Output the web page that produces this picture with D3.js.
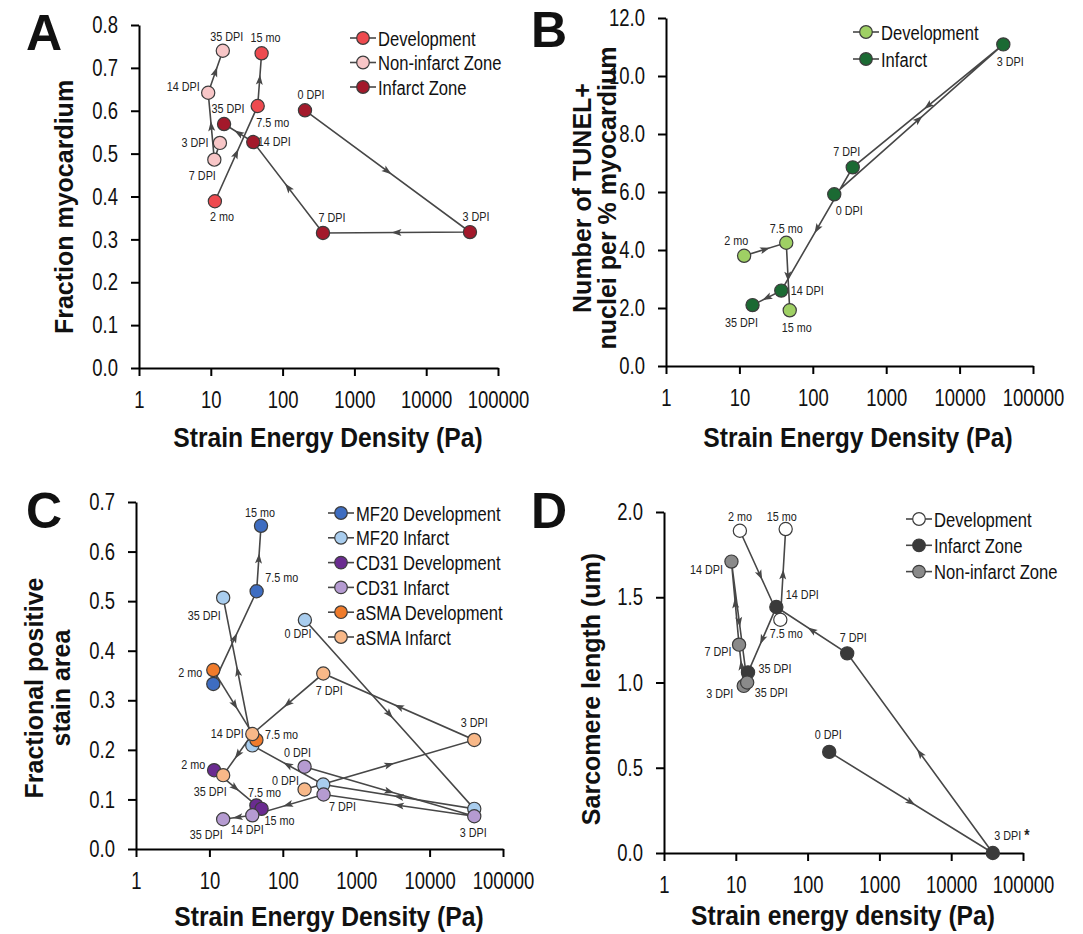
<!DOCTYPE html>
<html lang="en">
<head>
<meta charset="UTF-8">
<title>Strain energy density panels</title>
<script src="https://cdn.jsdelivr.net/npm/d3@7"></script>
<style>
body { margin: 0; background: #fff; }
svg text { font-family: "Liberation Sans", Arial, sans-serif; fill: #111; }
.letter { font-weight: bold; font-size: 50px; }
.xtitle { font-weight: bold; font-size: 28px; }
.ytitle { font-weight: bold; font-size: 25px; }
.ptlab { font-size: 13.5px; fill: #222; }
.legtxt { font-size: 21px; }
</style>
</head>
<body>
<script>

// ---------- data (strain energy density in Pa) ----------
var sedTicks = [1, 10, 100, 1000, 10000, 100000];
var devLabels = ["2 mo", "7.5 mo", "15 mo"];
var infLabels = ["0 DPI", "3 DPI", "7 DPI", "14 DPI", "35 DPI"];
var nonLabels = ["3 DPI", "7 DPI", "14 DPI", "35 DPI"];

// A: fraction myocardium
var aTicks = [0, 0.1, 0.2, 0.3, 0.4, 0.5, 0.6, 0.7, 0.8];
var aDevSed = [11.4, 45, 51];
var aDevVal = [0.389, 0.611, 0.734];
var aNonSed = [13.4, 11.2, 9.2, 14.7];
var aNonVal = [0.525, 0.486, 0.642, 0.74];
var aInfSed = [205, 40700, 365, 39, 15.3];
var aInfVal = [0.601, 0.317, 0.315, 0.527, 0.569];

// B: TUNEL+ nuclei per % myocardium
var bTicks = [0, 2, 4, 6, 8, 10, 12];
var bDevSed = [11.6, 43.5, 48.5];
var bDevVal = [3.8, 4.25, 1.92];
var bInfSed = [196, 39400, 350, 37.2, 15.1];
var bInfVal = [5.92, 11.09, 6.85, 2.6, 2.1];

// C: fractional positive stain area
var cTicks = [0, 0.1, 0.2, 0.3, 0.4, 0.5, 0.6, 0.7];
var cMfDevSed = [11.3, 44, 50.5];
var cMfDevVal = [0.333, 0.52, 0.652];
var cMfInfSed = [200, 40600, 355, 38.4, 15.4];
var cMfInfVal = [0.462, 0.081, 0.13, 0.209, 0.507];
var cCdDevSed = [11.6, 43.7, 51.4];
var cCdDevVal = [0.159, 0.088, 0.081];
var cCdInfSed = [198, 40600, 359, 38.4, 15.4];
var cCdInfVal = [0.166, 0.066, 0.11, 0.068, 0.06];
var cSmaDevLabels = ["2 mo", "7.5 mo"];
var cSmaDevSed = [11.3, 43.7];
var cSmaDevVal = [0.361, 0.22];
var cSmaInfSed = [198, 40600, 356, 38.4, 15.4];
var cSmaInfVal = [0.12, 0.22, 0.354, 0.232, 0.149];

// D: sarcomere length (um)
var dTicks = [0, 0.5, 1, 1.5, 2];
var dDevSed = [11.4, 41.7, 49.5];
var dDevVal = [1.89, 1.368, 1.9];
var dInfLabels = ["0 DPI", "3 DPI *", "7 DPI", "14 DPI", "35 DPI"];
var dInfSed = [200, 38000, 356, 36.7, 14.8];
var dInfVal = [0.593, 0, 1.171, 1.443, 1.059];
var dNonSed = [12.9, 11.1, 8.7, 14.4];
var dNonVal = [0.98, 1.222, 1.709, 1.0];

// ---------- label offsets (dx, baseline dy) relative to each point ----------
var aDevLab = [[7, 20], [15, 21], [4, -11]];
var aNonLab = [[-25, 4], [-12, 20], [-25, -2], [4, -10]];
var aInfLab = [[6, -11], [6, -11], [9, -11], [21, 4], [4, -11]];
var bDevLab = [[-8, -11], [0, -10], [7, 22]];
var bInfLab = [[15, 21], [7, 22], [-6, -11], [26, 4], [-11, 22]];
var cMfDevLab = [null, [25, -9], [-1, -9]];
var cMfInfLab = [[-7, 18], null, null, null, [-19, 22]];
var cCdDevLab = [[-21, -1], [8, -8], [18, 16]];
var cCdInfLab = [[-7, -10], [-1, 21], [19, 17], [-5, 19], [-17, 20]];
var cSmaDevLab = [[-23, 7], [25, -1]];
var cSmaInfLab = [[-19, -5], [0, -13], [6, 21], [-25, 4], [-13, 21]];
var dDevLab = [[0, -10], [6, 18], [-4, -8]];
var dInfLab = [[-1, -13], [19, -13], [6, -11], [26, -8], [27, 1]];
var dNonLab = [[-24, 12], [-21, 11], [-25, 12], [24, 14]];

var panels = [
  { letter: "A", lx: 62, ly: 50, xr: [139, 498], yr: [368, 25], ymax: 0.8, yticks: aTicks,
    ytitle: ["Fraction myocardium"], ytx: [73], yty: 207, xtitle: "Strain Energy Density (Pa)", xtx: 328, xty: 447,
    legX: 350, legY: 38, legStep: 24.5,
    series: [
      { name: "Development", color: "#ee4a4f", labels: devLabels, x: aDevSed, y: aDevVal, lab: aDevLab },
      { name: "Non-infarct Zone", color: "#f8c6c7", labels: nonLabels, x: aNonSed, y: aNonVal, lab: aNonLab },
      { name: "Infarct Zone", color: "#a3192b", labels: infLabels, x: aInfSed, y: aInfVal, lab: aInfLab }
    ] },
  { letter: "B", lx: 567, ly: 47, xr: [666, 1033], yr: [366, 18], ymax: 12, yticks: bTicks,
    ytitle: ["Number of TUNEL+", "nuclei per % myocardium"], ytx: [591, 616], yty: 198,
    xtitle: "Strain Energy Density (Pa)", xtx: 858, xty: 447,
    legX: 853, legY: 32, legStep: 27,
    series: [
      { name: "Development", color: "#9fd064", labels: devLabels, x: bDevSed, y: bDevVal, lab: bDevLab },
      { name: "Infarct", color: "#1b6a33", labels: infLabels, x: bInfSed, y: bInfVal, lab: bInfLab }
    ] },
  { letter: "C", lx: 62, ly: 528, xr: [136, 503], yr: [849, 502], ymax: 0.7, yticks: cTicks,
    ytitle: ["Fractional positive", "stain area"], ytx: [43, 70], yty: 688,
    xtitle: "Strain Energy Density (Pa)", xtx: 329, xty: 926,
    legX: 328, legY: 513, legStep: 24.8,
    series: [
      { name: "MF20 Development", color: "#3e6dc1", labels: devLabels, x: cMfDevSed, y: cMfDevVal, lab: cMfDevLab },
      { name: "MF20 Infarct", color: "#a9cdee", labels: infLabels, x: cMfInfSed, y: cMfInfVal, lab: cMfInfLab },
      { name: "CD31 Development", color: "#6a2b90", labels: devLabels, x: cCdDevSed, y: cCdDevVal, lab: cCdDevLab },
      { name: "CD31 Infarct", color: "#b59bd1", labels: infLabels, x: cCdInfSed, y: cCdInfVal, lab: cCdInfLab },
      { name: "aSMA Development", color: "#f07b2b", labels: cSmaDevLabels, x: cSmaDevSed, y: cSmaDevVal, lab: cSmaDevLab },
      { name: "aSMA Infarct", color: "#f8b888", labels: infLabels, x: cSmaInfSed, y: cSmaInfVal, lab: cSmaInfLab }
    ] },
  { letter: "D", lx: 567, ly: 528, xr: [664, 1023], yr: [853, 512], ymax: 2, yticks: dTicks,
    ytitle: ["Sarcomere length (um)"], ytx: [600], yty: 689,
    xtitle: "Strain energy density (Pa)", xtx: 843, xty: 925,
    legX: 906, legY: 519, legStep: 26.3,
    series: [
      { name: "Development", color: "#ffffff", labels: devLabels, x: dDevSed, y: dDevVal, lab: dDevLab },
      { name: "Infarct Zone", color: "#3a3a3a", labels: dInfLabels, x: dInfSed, y: dInfVal, lab: dInfLab },
      { name: "Non-infarct Zone", color: "#8a8a8a", labels: nonLabels, x: dNonSed, y: dNonVal, lab: dNonLab }
    ] }
];

var lineColor = "#474747";

var svg = d3.select("body").append("svg")
  .attr("width", 1083)
  .attr("height", 934);

function styleAxis(g) {
  g.attr("font-family", null).attr("font-size", null);
  g.selectAll("path, line").attr("stroke", "#000").attr("stroke-width", 2);
  g.selectAll("text").attr("font-size", 24).attr("fill", "#111");
}

function drawPanel(p) {
  var x = d3.scaleLog().domain([1, 100000]).range(p.xr);
  var y = d3.scaleLinear().domain([0, p.ymax]).range(p.yr);
  var g = svg.append("g");

  g.append("g")
    .attr("transform", "translate(0," + p.yr[0] + ")")
    .call(d3.axisBottom(x).tickValues(sedTicks).tickFormat(d3.format("d"))
      .tickSize(8).tickSizeOuter(0).tickPadding(15))
    .call(styleAxis);

  g.append("g")
    .attr("transform", "translate(" + p.xr[0] + ",0)")
    .call(d3.axisLeft(y).tickValues(p.yticks).tickFormat(d3.format(".1f"))
      .tickSize(8).tickSizeOuter(0).tickPadding(13))
    .call(styleAxis);

  // connecting lines with mid-segment arrowheads
  p.series.forEach(function(s) {
    var pts = s.x.map(function(v, i) { return [x(v), y(s.y[i])]; });
    g.append("path")
      .attr("d", d3.line()(pts))
      .attr("fill", "none")
      .attr("stroke", lineColor)
      .attr("stroke-width", 1.6);
    for (var i = 0; i < pts.length - 1; i++) {
      var a = pts[i], b = pts[i + 1];
      var dx = b[0] - a[0], dy = b[1] - a[1];
      if (Math.sqrt(dx * dx + dy * dy) < 28) continue;
      var ang = Math.atan2(dy, dx) * 180 / Math.PI;
      g.append("path")
        .attr("d", "M5,0L-5,-3.5L-2.8,0L-5,3.5Z")
        .attr("fill", lineColor)
        .attr("transform", "translate(" + ((a[0] + b[0]) / 2) + "," + ((a[1] + b[1]) / 2) + ") rotate(" + ang + ")");
    }
  });

  // points
  p.series.forEach(function(s) {
    g.selectAll(null)
      .data(s.x.map(function(v, i) { return [v, s.y[i]]; }))
      .enter().append("circle")
      .attr("cx", function(d) { return x(d[0]); })
      .attr("cy", function(d) { return y(d[1]); })
      .attr("r", 6.6)
      .attr("fill", s.color)
      .attr("stroke", "#3c3c3c")
      .attr("stroke-width", 1.2);
  });

  // point labels (a trailing " *" is drawn as a bold star)
  p.series.forEach(function(s) {
    s.labels.forEach(function(t, i) {
      var off = s.lab[i];
      if (!off) return;
      var star = / \*$/.test(t);
      var txt = g.append("text")
        .attr("class", "ptlab")
        .attr("x", x(s.x[i]) + off[0])
        .attr("y", y(s.y[i]) + off[1])
        .attr("text-anchor", "middle")
        .text(star ? t.replace(/\*$/, "") : t);
      if (star) txt.append("tspan").attr("font-weight", "bold").attr("font-size", 17).attr("dy", 1).text("*");
    });
  });

  // legend
  p.series.forEach(function(s, i) {
    var ly = p.legY + i * p.legStep;
    var lg = g.append("g").attr("transform", "translate(" + p.legX + "," + ly + ")");
    lg.append("line").attr("x1", 0).attr("x2", 26).attr("y1", 0).attr("y2", 0)
      .attr("stroke", lineColor).attr("stroke-width", 1.6);
    lg.append("circle").attr("cx", 13).attr("cy", 0).attr("r", 6.3)
      .attr("fill", s.color).attr("stroke", "#3c3c3c").attr("stroke-width", 1.2);
    lg.append("text").attr("class", "legtxt").attr("x", 28).attr("y", 7.5).text(s.name);
  });

  // titles
  g.append("text").attr("class", "xtitle")
    .attr("x", p.xtx).attr("y", p.xty)
    .attr("text-anchor", "middle")
    .text(p.xtitle);

  p.ytitle.forEach(function(t, i) {
    g.append("text").attr("class", "ytitle")
      .attr("transform", "translate(" + p.ytx[i] + "," + p.yty + ") rotate(-90)")
      .attr("text-anchor", "middle")
      .text(t);
  });

  g.append("text").attr("class", "letter")
    .attr("x", p.lx).attr("y", p.ly)
    .attr("text-anchor", "end")
    .text(p.letter);
}

panels.forEach(drawPanel);

// squeeze horizontal texts to the condensed look of the original lettering
function squeeze(sel, k) {
  sel.each(function() {
    var t = d3.select(this);
    var tx = +t.attr("x") || 0, ty = +t.attr("y") || 0;
    t.attr("x", null).attr("y", null)
      .attr("transform", "translate(" + tx + "," + ty + ") scale(" + k + ",1)");
  });
}
squeeze(svg.selectAll(".tick text"), 0.77);
squeeze(svg.selectAll(".ptlab"), 0.8);
squeeze(svg.selectAll(".legtxt"), 0.79);
squeeze(svg.selectAll(".xtitle"), 0.88);

</script>
</body>
</html>
